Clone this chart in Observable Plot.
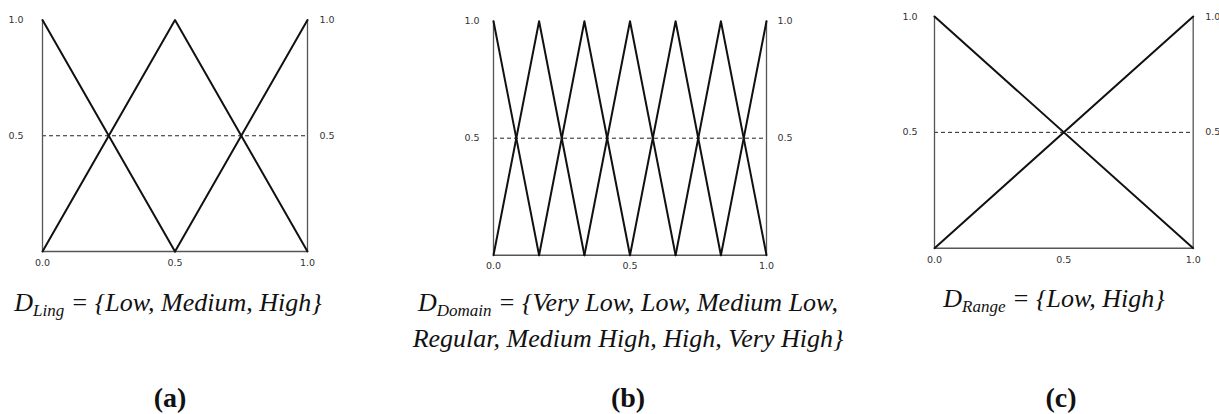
<!DOCTYPE html>
<html>
<head>
<meta charset="utf-8">
<script src="https://cdn.jsdelivr.net/npm/d3@7"></script>
<script src="https://cdn.jsdelivr.net/npm/@observablehq/plot@0.6"></script>
<style>
  html, body { margin: 0; padding: 0; background: #fff; }
  #root { position: relative; width: 1219px; height: 414px; overflow: hidden; background: #fff; }
  .panel { position: absolute; top: 0; }
  .cap { position: absolute; font-family: "Liberation Serif", "Times New Roman", "DejaVu Serif", serif; font-style: italic; font-size: 26px; color: #111; text-align: center; white-space: nowrap; }
  .cap sub { font-size: 17px; vertical-align: -5px; line-height: 0; }
  .lab { position: absolute; font-family: "Liberation Serif", "Times New Roman", "DejaVu Serif", serif; font-size: 28px; font-weight: bold; color: #111; text-align: center; line-height: 30px; }
</style>
</head>
<body>
<div id="root"></div>
<script>
// ---- data ----
const xTicks = [0, 0.5, 1];
const yTicks = [0.5, 1];
const cutLevel = [0.5];

const lingTerms = ["Low", "Medium", "High"];
const lingX  = [[0, 0.5], [0, 0.5, 1], [0.5, 1]];
const lingMu = [[1, 0],   [0, 1, 0],   [0, 1]];

const domainTerms = ["Very Low", "Low", "Medium Low", "Regular", "Medium High", "High", "Very High"];
const domainX  = [[0, 0.167], [0, 0.167, 0.333], [0.167, 0.333, 0.5], [0.333, 0.5, 0.667], [0.5, 0.667, 0.833], [0.667, 0.833, 1], [0.833, 1]];
const domainMu = [[1, 0],     [0, 1, 0],         [0, 1, 0],           [0, 1, 0],           [0, 1, 0],           [0, 1, 0],         [0, 1]];

const rangeTerms = ["Low", "High"];
const rangeX  = [[0, 1], [0, 1]];
const rangeMu = [[1, 0], [0, 1]];

// ---- helpers ----
function rows(terms, xs, mus) {
  const out = [];
  terms.forEach((t, i) => xs[i].forEach((x, j) => out.push({term: t, x, mu: mus[i][j]})));
  return out;
}

const fmt = d3.format(".1f");

function panel(data, o) {
  return Plot.plot({
    width: o.width, height: o.height,
    marginLeft: o.ml, marginRight: o.mr, marginTop: o.mt, marginBottom: o.mb,
    x: {domain: [0, 1]},
    y: {domain: [0, 1]},
    style: {fontFamily: "'DejaVu Sans', sans-serif", fontSize: "9.5px", color: "#333", background: "transparent", overflow: "visible"},
    marks: [
      Plot.ruleY(cutLevel, {stroke: "#222", strokeWidth: 1, strokeDasharray: "4,3"}),
      Plot.ruleX([0, 1], {y1: 0, y2: 1, stroke: "#555", strokeWidth: 1.3}),
      Plot.ruleY([0], {stroke: "#555", strokeWidth: 1.5}),
      Plot.line(data, {x: "x", y: "mu", z: "term", stroke: "#111", strokeWidth: 2}),
      Plot.axisX({ticks: xTicks, tickFormat: fmt, tickSize: 0, tickPadding: o.xpad, label: null}),
      Plot.axisY({anchor: "left", ticks: yTicks, tickFormat: fmt, tickSize: 0, tickPadding: o.lpad, label: null}),
      Plot.axisY({anchor: "right", ticks: yTicks, tickFormat: fmt, tickSize: 0, tickPadding: o.rpad, label: null})
    ]
  });
}

const root = document.getElementById("root");
function place(node, left) {
  node.classList.add("panel");
  node.style.left = left + "px";
  root.appendChild(node);
}

place(panel(rows(lingTerms, lingX, lingMu),
  {width: 345, height: 280, ml: 42, mr: 38, mt: 19.5, mb: 29, xpad: 8, lpad: 19, rpad: 12}), 0);
place(panel(rows(domainTerms, domainX, domainMu),
  {width: 370, height: 285, ml: 53, mr: 44, mt: 20.7, mb: 30.3, xpad: 7, lpad: 14, rpad: 11}), 440);
place(panel(rows(rangeTerms, rangeX, rangeMu),
  {width: 339, height: 280, ml: 54, mr: 26.3, mt: 16, mb: 32.3, xpad: 8, lpad: 17, rpad: 12}), 880);

function cap(html, cx, top, w, lh) {
  const d = document.createElement("div");
  d.className = "cap";
  d.innerHTML = html;
  d.style.left = (cx - w / 2) + "px";
  d.style.width = w + "px";
  d.style.top = top + "px";
  d.style.lineHeight = lh + "px";
  root.appendChild(d);
}
cap("D<sub>Ling</sub> = {Low, Medium, High}", 168, 288, 400, 30);
cap("D<sub>Domain</sub> = {Very Low, Low, Medium Low,<br>Regular, Medium High, High, Very High}", 628, 285, 520, 36);
cap("D<sub>Range</sub> = {Low, High}", 1054, 284, 300, 30);

function lab(letter, cx) {
  const d = document.createElement("div");
  d.className = "lab";
  d.textContent = "(" + letter + ")";
  d.style.left = (cx - 40) + "px";
  d.style.width = "80px";
  d.style.top = "383px";
  root.appendChild(d);
}
lab("a", 170);
lab("b", 628);
lab("c", 1061);
</script>
</body>
</html>
